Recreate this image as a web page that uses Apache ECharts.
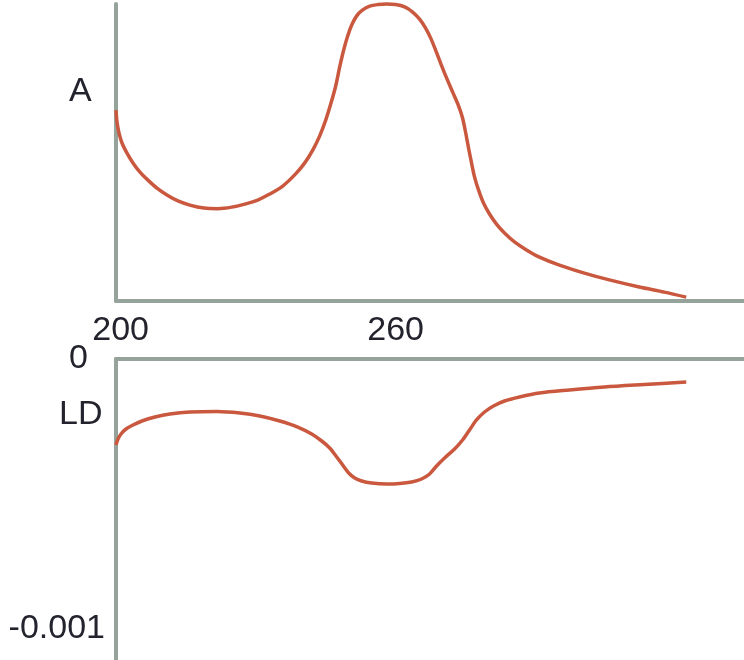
<!DOCTYPE html>
<html>
<head>
<meta charset="utf-8">
<script src="https://cdn.jsdelivr.net/npm/echarts@6/dist/echarts.min.js"></script>
<style>
html,body{margin:0;padding:0;background:#fff;}
#chart{width:744px;height:660px;}
</style>
</head>
<body>
<div id="chart"></div>
<script>
// Wavelength (nm) and absorbance (arbitrary, normalised) for the top panel
const absWavelength = [199.00,199.22,199.65,200.31,201.40,202.70,204.23,205.97,207.93,210.11,212.51,215.12,218.17,221.22,224.27,227.32,229.93,232.53,235.37,238.19,240.18,241.92,243.44,244.75,245.84,246.93,247.80,248.67,249.54,250.42,251.51,252.81,254.34,256.08,258.04,260.00,261.96,263.71,265.23,266.54,267.63,268.72,269.81,271.11,272.42,273.73,274.60,275.25,275.91,276.56,277.21,278.08,279.17,280.48,282.01,283.75,285.93,288.54,291.37,295.73,301.18,306.63,313.16,318.61,323.40];
const absValues     = [0.643,0.603,0.566,0.532,0.498,0.465,0.434,0.407,0.380,0.357,0.337,0.323,0.313,0.311,0.316,0.327,0.340,0.360,0.387,0.428,0.465,0.508,0.556,0.609,0.663,0.724,0.788,0.845,0.892,0.929,0.960,0.980,0.993,0.998,1.000,0.998,0.990,0.973,0.949,0.919,0.886,0.845,0.801,0.751,0.704,0.657,0.616,0.569,0.515,0.465,0.418,0.374,0.330,0.293,0.259,0.229,0.199,0.172,0.148,0.121,0.094,0.071,0.047,0.030,0.013];

// Wavelength (nm) and linear dichroism for the bottom panel
const ldWavelength = [199.00,199.44,200.09,201.18,202.70,204.66,207.50,210.76,215.12,221.00,226.02,230.37,234.73,238.65,241.70,243.88,245.62,247.15,248.45,249.76,251.07,252.59,254.77,258.04,260.87,263.49,265.67,267.41,268.93,270.68,272.86,274.60,276.12,277.65,279.39,281.35,283.75,287.02,291.37,297.91,305.54,314.25,323.40];
const ldValues     = [-0.0003185,-0.0002963,-0.0002778,-0.0002593,-0.0002444,-0.0002296,-0.0002148,-0.0002037,-0.0001963,-0.0001944,-0.0002000,-0.0002111,-0.0002296,-0.0002519,-0.0002778,-0.0003037,-0.0003296,-0.0003630,-0.0003926,-0.0004222,-0.0004407,-0.0004519,-0.0004593,-0.0004630,-0.0004611,-0.0004556,-0.0004444,-0.0004259,-0.0003963,-0.0003667,-0.0003333,-0.0003000,-0.0002630,-0.0002259,-0.0001963,-0.0001741,-0.0001556,-0.0001407,-0.0001259,-0.0001148,-0.0001037,-0.0000944,-0.0000852];

const xTickValues = [200, 260];
const ldTickValues = [0, -0.001];
const ldTickLabels = ['0', '-0.001'];
const panelLabels = ['A', 'LD'];

const axisColor = '#95a39b';
const lineColor = '#c9583e';
const textColor = '#23232e';
const font = 'Liberation Sans, Arial, Helvetica, sans-serif';

const chart = echarts.init(document.getElementById('chart'));
chart.setOption({
  animation: false,
  backgroundColor: '#fff',
  grid: [
    {left: 116, right: 0, top: 4, height: 297},
    {left: 116, right: 0, top: 359, bottom: 0}
  ],
  xAxis: [
    {gridIndex: 0, type: 'value', min: 199, max: 336,
      axisLine: {show: true, lineStyle: {color: axisColor, width: 4}},
      axisTick: {show: false}, splitLine: {show: false},
      axisLabel: {customValues: xTickValues, fontSize: 34, color: textColor, fontFamily: font, margin: 13}
    },
    {gridIndex: 1, type: 'value', min: 199, max: 336, position: 'top',
      axisLine: {show: true, onZero: false, lineStyle: {color: axisColor, width: 4}},
      axisTick: {show: false}, splitLine: {show: false}, axisLabel: {show: false}
    }
  ],
  yAxis: [
    {gridIndex: 0, type: 'value', min: 0, max: 1,
      axisLine: {show: true, lineStyle: {color: axisColor, width: 4}},
      axisTick: {show: false}, splitLine: {show: false}, axisLabel: {show: false}
    },
    {gridIndex: 1, type: 'value', min: -0.0011148, max: 0,
      axisLine: {show: true, onZero: false, lineStyle: {color: axisColor, width: 4}},
      axisTick: {show: false}, splitLine: {show: false},
      axisLabel: {customValues: ldTickValues, margin: 11,
        formatter: function (v) { return v === 0 ? '{z|' + ldTickLabels[0] + '}' : '{m|' + ldTickLabels[1] + '}'; },
        rich: {
          z: {fontSize: 34, color: textColor, fontFamily: font, padding: [0, 17, 0, 0]},
          m: {fontSize: 34, color: textColor, fontFamily: font}
        }
      }
    }
  ],
  graphic: [
    {type: 'text', left: 69, top: 75, style: {text: panelLabels[0], fontSize: 34, fill: textColor, fontFamily: font}},
    {type: 'text', left: 59, top: 398, style: {text: panelLabels[1], fontSize: 34, fill: textColor, fontFamily: font}}
  ],
  series: [
    {type: 'line', xAxisIndex: 0, yAxisIndex: 0, showSymbol: false, smooth: 0.3, clip: false,
      lineStyle: {color: lineColor, width: 3.5},
      data: absWavelength.map((w, i) => [w, absValues[i]])},
    {type: 'line', xAxisIndex: 1, yAxisIndex: 1, showSymbol: false, smooth: 0.3, clip: false,
      lineStyle: {color: lineColor, width: 3.5},
      data: ldWavelength.map((w, i) => [w, ldValues[i]])}
  ]
});
</script>
</body>
</html>
